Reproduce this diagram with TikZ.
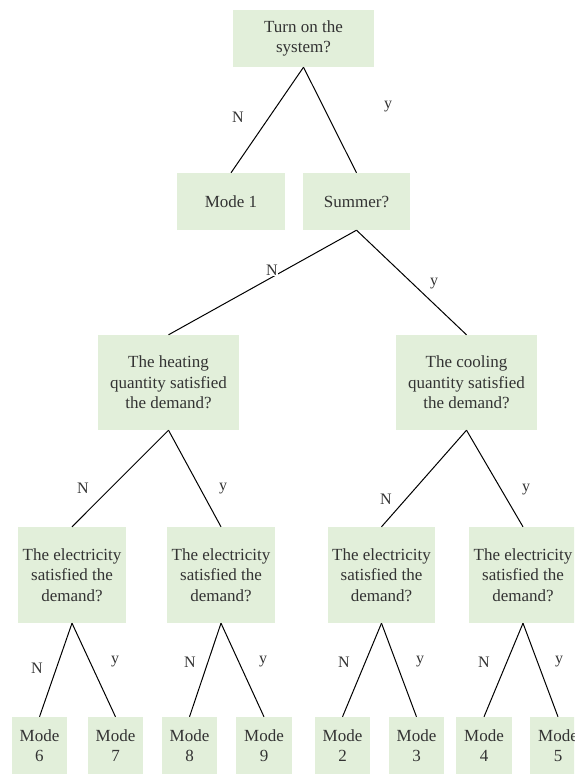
\documentclass[tikz,border=0pt]{standalone}
\usepackage{fontspec}
\setmainfont{Liberation Serif}
\definecolor{boxgreen}{HTML}{E2EFDA}
\definecolor{textgray}{HTML}{333333}
\tikzset{
    modebox/.style={fill=boxgreen, text=textgray, align=center, inner sep=0pt,
        font=\fontsize{17}{20.5}\selectfont},
    answer/.style={text=textgray, inner sep=0pt, font=\fontsize{16}{19}\selectfont},
    branch/.style={line width=1pt}
}

\begin{document}
\begin{tikzpicture}[x=1pt,y=-1pt]
                    \useasboundingbox (0,0) rectangle (574,776);
                    \clip (0,0) rectangle (574,776);

                    \node[modebox, minimum width=141pt, minimum height=57pt] (turnon) at (303.5,38.5) {Turn on the\\system?};

                    \node[modebox, minimum width=108pt, minimum height=57pt] (mode1) at (231,201.5) {Mode 1};
                    \node[modebox, minimum width=107pt, minimum height=57pt] (summer) at (356.5,201.5) {Summer?};

                    \node[modebox, minimum width=141pt, minimum height=95pt] (heating) at (168.5,382.5) {The heating\\quantity satisfied\\the demand?};
                    \node[modebox, minimum width=141pt, minimum height=95pt] (cooling) at (466.5,382.5) {The cooling\\quantity satisfied\\the demand?};

                    \node[modebox, minimum width=108pt, minimum height=96pt] (elec1) at (72,575) {The electricity\\satisfied the\\demand?};
                    \node[modebox, minimum width=108pt, minimum height=96pt] (elec2) at (221,575) {The electricity\\satisfied the\\demand?};
                    \node[modebox, minimum width=107pt, minimum height=96pt] (elec3) at (381.5,575) {The electricity\\satisfied the\\demand?};
                    \node[modebox, minimum width=108pt, minimum height=96pt] (elec4) at (523,575) {The electricity\\satisfied the\\demand?};

                    \node[modebox, minimum width=55pt, minimum height=57pt] (mode6) at (39.5,745.5) {Mode\\6};
                    \node[modebox, minimum width=55pt, minimum height=57pt] (mode7) at (115.5,745.5) {Mode\\7};
                    \node[modebox, minimum width=55pt, minimum height=57pt] (mode8) at (189.5,745.5) {Mode\\8};
                    \node[modebox, minimum width=56pt, minimum height=57pt] (mode9) at (264,745.5) {Mode\\9};
                    \node[modebox, minimum width=55pt, minimum height=57pt] (mode2) at (342.5,745.5) {Mode\\2};
                    \node[modebox, minimum width=55pt, minimum height=57pt] (mode3) at (416.5,745.5) {Mode\\3};
                    \node[modebox, minimum width=56pt, minimum height=57pt] (mode4) at (484,745.5) {Mode\\4};
                    \node[modebox, minimum width=56pt, minimum height=57pt] (mode5) at (558,745.5) {Mode\\5};

                    \draw[branch] (turnon.south) -- (mode1.north);
                    \draw[branch] (turnon.south) -- (summer.north);
                    \draw[branch] (summer.south) -- (heating.north);
                    \draw[branch] (summer.south) -- (cooling.north);
                    \draw[branch] (heating.south) -- (elec1.north);
                    \draw[branch] (heating.south) -- (elec2.north);
                    \draw[branch] (cooling.south) -- (elec3.north);
                    \draw[branch] (cooling.south) -- (elec4.north);

                    \draw[branch] (elec1.south) -- (mode6.north);
                    \draw[branch] (elec1.south) -- (mode7.north);
                    \draw[branch] (elec2.south) -- (mode8.north);
                    \draw[branch] (elec2.south) -- (mode9.north);
                    \draw[branch] (elec3.south) -- (mode2.north);
                    \draw[branch] (elec3.south) -- (mode3.north);
                    \draw[branch] (elec4.south) -- (mode4.north);
                    \draw[branch] (elec4.south) -- (mode5.north);

                    \node[answer] (no0) at (238,117) {N};
                    \node[answer] (yes0) at (388,107) {y};
                    \node[answer, fill=white, inner sep=0.5pt] (no1) at (272,270) {N};
                    \node[answer] (yes1) at (434,284) {y};
                    \node[answer] (no2) at (83,488) {N};
                    \node[answer] (yes2) at (223,489) {y};
                    \node[answer] (no3) at (386,499) {N};
                    \node[answer] (yes3) at (526,490) {y};
                    \node[answer] (no4) at (37,668) {N};
                    \node[answer] (yes4) at (115,662) {y};
                    \node[answer] (no5) at (190,662) {N};
                    \node[answer] (yes5) at (263,662) {y};
                    \node[answer] (no6) at (344,662) {N};
                    \node[answer] (yes6) at (420,662) {y};
                    \node[answer] (no7) at (484,662) {N};
                    \node[answer] (yes7) at (559,662) {y};
                \end{tikzpicture}
\end{document}
